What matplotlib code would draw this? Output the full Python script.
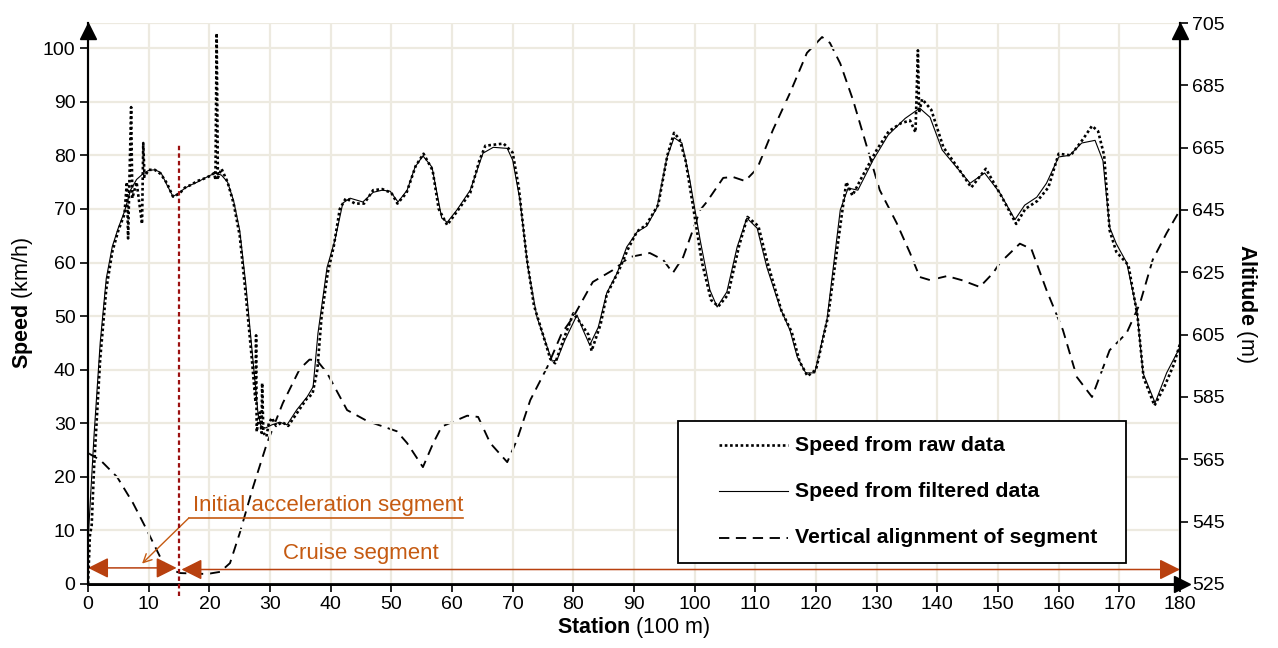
import matplotlib
matplotlib.use("Agg")
import matplotlib.pyplot as plt
from matplotlib.patches import Rectangle
from matplotlib.lines import Line2D

plt.rcParams['font.family'] = ['Liberation Sans', 'DejaVu Sans']
plt.rcParams['mathtext.fontset'] = 'custom'
plt.rcParams['mathtext.rm'] = 'Liberation Sans'
plt.rcParams['mathtext.bf'] = 'Liberation Sans:bold'

# filtered speed (km/h) vs station (100 m)
filt_station = [0, 0.5, 1, 2, 3, 4, 5, 6, 7, 8, 9, 10, 11, 12, 13, 14, 15, 16, 17, 18, 19, 20,
                21, 22, 23, 24, 25, 26, 27, 28, 28.5, 29.2, 30.3, 31.6, 32.8, 34.4, 36.1, 37.1,
                37.9, 39.4, 40.7, 42, 43.2, 45.3, 47, 48.5, 49.8, 51.1, 52.6, 53.9, 55.2, 56.7,
                58.3, 59.2, 60.8, 63, 65.1, 66.8, 69.1, 70, 71.2, 72.5, 74, 75.7, 76.5, 77.3,
                78.6, 80.6, 81.6, 82.7, 84.1, 85.5, 87.2, 88.8, 90.5, 92.1, 93.8, 95.4, 96.6,
                97.9, 99.2, 100.9, 102.5, 103.7, 105.3, 107, 108.6, 110.3, 111.9, 114.1, 115.7,
                116.9, 118.3, 119.8, 121.8, 124, 125.3, 126.9, 129.4, 131.9, 134.7, 137.1, 138.8,
                140.8, 143, 145.4, 147.8, 150.3, 152.8, 154.4, 156.4, 158, 160, 161.8, 163.8,
                166, 167.3, 168.4, 169.5, 171.2, 172.9, 173.9, 175.9, 177.8, 180]
filt_speed = [8, 18, 28, 45, 57, 63, 66.5, 69.5, 73.5, 75.5, 76.5, 77.2, 77.3, 76.8, 74.5, 72.3,
              73, 73.9, 74.5, 75, 75.6, 76.2, 76.7, 76.3, 75, 71.5, 66, 56, 44, 32, 29.5, 29.1,
              29.7, 30.2, 29.7, 32.5, 34.9, 36.8, 46.8, 59.1, 64.2, 71.1, 72, 71.3, 73.1, 73.5,
              73.3, 71.3, 73.5, 77.8, 79.9, 77.8, 68.3, 67.5, 69.8, 73.5, 80.4, 81.5, 81.3, 79.1,
              71.6, 59.1, 49.8, 44.2, 41.6, 41.8, 45.5, 50.2, 47.4, 44.6, 47.9, 54.3, 58, 62.9,
              65.7, 66.8, 70.3, 79.5, 83.3, 82.3, 75.4, 64.2, 54.9, 51.7, 54.5, 62.9, 68.3, 66.4,
              59.1, 51.5, 47.4, 42.4, 39.4, 39.4, 49.3, 69.8, 73.9, 73.5, 79.1, 83.8, 86.9, 88.8,
              87.1, 81, 78, 74.8, 76.7, 73, 68, 70.7, 72.2, 74.8, 79.7, 80, 82.3, 82.8, 79, 66.6,
              63.5, 60, 51, 39.4, 33.8, 39.4, 44.2]

# raw speed (km/h) with GPS spikes
raw_station = [0, 0.3, 0.6, 1, 1.5, 2, 3, 4, 5, 6, 6.4, 6.6, 6.8, 7.1, 7.3, 8, 8.9, 9.1, 9.3, 10,
               11, 12, 13, 14, 15, 16, 17, 18, 19, 20, 20.8, 21.0, 21.2, 21.4, 22, 23, 24, 25, 26,
               27, 27.6, 27.7, 27.8, 28.3, 28.6, 28.7, 28.9, 29.4, 29.8, 30.3, 31, 32, 33, 34.5,
               36, 37, 37.8, 38.5, 39.5, 40.5, 41.5, 42.5, 44, 45.5, 47, 48.5, 50, 51, 52.5, 54,
               55.3, 56.8, 57.8, 59.2, 61, 63, 64.5, 65.5, 67, 68.5, 70, 71, 72.3, 73.5, 75, 76.2,
               77, 78.5, 80, 81, 82.5, 83, 84.5, 85.5, 87.5, 89, 90.5, 92, 94, 95.5, 96.6, 97.5,
               98.5, 99.8, 101.2, 102.7, 103.9, 105.5, 107.3, 108.7, 110.5, 112, 114.3, 116,
               117.3, 118.6, 120, 122, 124.2, 125, 126, 127.5, 130, 132, 134, 135.5, 136.4, 136.8,
               137.0, 137.5, 139, 141, 143.5, 145.6, 148, 150.5, 153, 154.5, 156.5, 158.3, 160,
               162, 164, 165.5, 166.5, 167.5, 168.4, 169.5, 171.5, 173, 174, 175.8, 177.5, 179, 180]
raw_speed = [0, 9, 11, 22, 32, 42, 55, 62, 66, 69, 75, 64.5, 74, 89, 72, 75, 67.2, 82.3, 76, 77.3,
             77.3, 76.5, 74.8, 72.3, 72.8, 74, 74.5, 75.2, 75.6, 76.1, 76.7, 75.4, 102.8, 75.8,
             77.5, 75, 71, 65, 54, 42, 34, 46.4, 28.4, 32, 28.2, 37.5, 28.2, 27.5, 30, 31, 29.5,
             30.2, 29.5, 32, 34.5, 35.5, 40, 50, 58, 63, 70, 72, 71, 71, 73.5, 73.7, 73, 71, 73,
             78, 80.3, 77.2, 70, 67, 69.8, 73, 79, 81.8, 82, 82.2, 80.5, 74, 61, 52, 46.5, 42,
             41.2, 46, 50.5, 49, 46.5, 43.5, 48.5, 54, 58.5, 62.5, 65.8, 67, 70.8, 80, 84.2, 83,
             79, 70, 60, 53, 51.8, 54, 63, 68.5, 66.8, 60, 51, 47, 41.5, 38.8, 40, 50, 68.5, 75,
             72.5, 75.8, 81, 84.5, 86, 86.5, 84.3, 99.6, 88, 90.5, 88.5, 81.5, 77.5, 74, 77.5,
             72.5, 67.2, 70, 71.5, 74, 80.3, 80, 83, 85.5, 84.5, 80, 66, 62, 59.5, 50, 38.5, 33.3,
             37, 41, 44.8]

# altitude (m) of the vertical alignment
alt_station = [0, 2, 4.8, 7.4, 9.7, 11.9, 13, 15.2, 19.6, 21.8, 23.4, 25, 27.2, 29.5, 32.1, 34.9,
               36.5, 37.7, 39.4, 42.7, 46, 50.9, 52.6, 55.2, 56.9, 58.3, 62.5, 64.3, 66.3, 69.1,
               70.7, 72.9, 75.7, 78.1, 80, 83.2, 86.5, 89.3, 92.6, 94.8, 96.4, 98.1, 100.9, 102,
               104.7, 106.3, 108.3, 110.3, 112.9, 115.7, 118.5, 121, 122.3, 124, 126.1, 128.4,
               130.5, 133.3, 135.5, 137.1, 138.8, 141.6, 144, 147, 149.2, 150.3, 153.6, 155.5,
               158, 160.7, 163, 165.5, 168.4, 171.2, 173.4, 175.5, 177.8, 180]
alt_value = [567, 564.8, 559.3, 551, 542.3, 533.6, 530.1, 528.5, 528.2, 528.9, 531.7, 541.3, 556.1,
             570.2, 583, 594, 597, 596.8, 592.7, 580.8, 577.3, 574, 570.2, 562.5, 570.2, 575.5,
             579, 578.6, 570.2, 564.1, 571.2, 584, 594.6, 605.5, 610.7, 621.9, 625.7, 629.9,
             631.2, 629, 624.8, 629.9, 645, 647.6, 655.3, 655.6, 654.3, 658.3, 670.7, 682.5,
             695.4, 700.5, 698.6, 692, 680.3, 665.2, 651.4, 640.8, 631.2, 623.5, 622.5, 623.8,
             622.5, 620.3, 624.8, 628, 634.2, 632.5, 619.3, 606.5, 591.4, 585, 600, 605.5, 615,
             629, 637.6, 645]

speed_ticks = [0, 10, 20, 30, 40, 50, 60, 70, 80, 90, 100]
alt_ticks = [525, 545, 565, 585, 605, 625, 645, 665, 685, 705]
station_ticks = list(range(0, 181, 10))
split_station = 15

grid_c = '#EDEAE0'
red_line = '#C00000'
head_c = '#B8400F'
text_c = '#C55A11'

fig = plt.figure(figsize=(12.78, 6.48), dpi=100)
ax = fig.add_axes([0.0689, 0.0988, 0.8544, 0.8657])
ax2 = ax.twinx()
ax.set_xlim(0, 180)
ax.set_ylim(0, 104.7)
ax2.set_ylim(525, 705)

ax.set_xticks(station_ticks)
ax.set_yticks(speed_ticks)
ax2.set_yticks(alt_ticks)
ax.grid(True, color=grid_c, lw=1.6, zorder=0)
ax.axhline(104.7, color=grid_c, lw=1.6, zorder=0)
ax.set_axisbelow(True)

ax.tick_params(labelsize=14, length=6, width=1.2, direction='out', pad=3)
ax2.tick_params(labelsize=14, length=6, width=1.2, direction='out', pad=3)
for a in (ax, ax2):
    a.spines['top'].set_visible(False)
    a.spines['left'].set_linewidth(1.5)
    a.spines['right'].set_linewidth(1.5)
    a.spines['bottom'].set_linewidth(2)

ax.set_xlabel(r'$\bf{Station}$ (100 m)', fontsize=15.5, labelpad=1)
ax.set_ylabel(r'$\bf{Speed}$ (km/h)', fontsize=15.5, labelpad=6)
ax2.set_ylabel(r'$\bf{Altitude}$ (m)', fontsize=15.5, rotation=270, labelpad=24)

raw_style = dict(color='black', lw=1.9, linestyle=(0, (1, 1)), dash_capstyle='butt')
filt_style = dict(color='black', lw=0.8)
alt_style = dict(color='black', lw=1.35, linestyle=(0, (5.5, 3.5)))

ax2.plot(alt_station, alt_value, **alt_style, zorder=3)
ax.set_zorder(ax2.get_zorder() + 1)
ax.patch.set_visible(False)
ax.plot(raw_station, raw_speed, **raw_style, zorder=4)
ax.plot(filt_station, filt_speed, **filt_style, zorder=5)

# split between initial acceleration and cruise
ax.plot([split_station, split_station], [-2.2, 82], color='#9B1010', lw=1.6,
        linestyle=(0, (2, 1.4)), clip_on=False, zorder=6)

# segment arrows
arrow_props = dict(arrowstyle='<|-|>,head_length=0.9,head_width=0.45', color=red_line,
                   lw=1.1, shrinkA=0, shrinkB=0, mutation_scale=14, fc=head_c, ec=head_c)
ax.annotate('', xy=(0, 3), xytext=(14.6, 3), arrowprops=arrow_props)
ax.annotate('', xy=(15.4, 2.7), xytext=(180, 2.7), arrowprops=arrow_props)
ax.text(32.2, 4.6, 'Cruise segment', color=text_c, fontsize=16, ha='left', va='baseline')
ax.text(17.3, 13.6, 'Initial acceleration segment', color=text_c, fontsize=16,
        ha='left', va='baseline')
ax.plot([16.6, 61.8], [12.3, 12.3], color=text_c, lw=1.2)
ax.annotate('', xy=(8.9, 3.8), xytext=(16.6, 12.3),
            arrowprops=dict(arrowstyle='->,head_length=0.6,head_width=0.3', color=text_c,
                            lw=1.0, shrinkA=0, shrinkB=0))

# axis arrowheads
ax.plot([0], [0.986], marker='^', ms=11, color='black', transform=ax.transAxes, clip_on=False, zorder=7)
ax.plot([1.0], [0.986], marker='^', ms=11, color='black', transform=ax.transAxes, clip_on=False, zorder=7)
ax.plot([1.002], [0], marker='>', ms=11, color='black', transform=ax.transAxes, clip_on=False, zorder=7)

# legend box
lx0, ly0, lw_, lh = 0.540, 0.0374, 0.411, 0.2532
ax.add_patch(Rectangle((lx0, ly0), lw_, lh, transform=ax.transAxes, fc='white',
                       ec='black', lw=1.3, zorder=8))
legend_rows = [('Speed from raw data', raw_style, 0.247),
               ('Speed from filtered data', filt_style, 0.165),
               ('Vertical alignment of segment', alt_style, 0.082)]
for label, style, yy in legend_rows:
    ax.add_line(Line2D([0.578, 0.641], [yy, yy], transform=ax.transAxes, zorder=9, **style))
    ax.text(0.647, yy, label, transform=ax.transAxes, fontsize=15.3, fontweight='bold',
            va='center', ha='left', zorder=9)

fig.savefig('out.png', dpi=100)
